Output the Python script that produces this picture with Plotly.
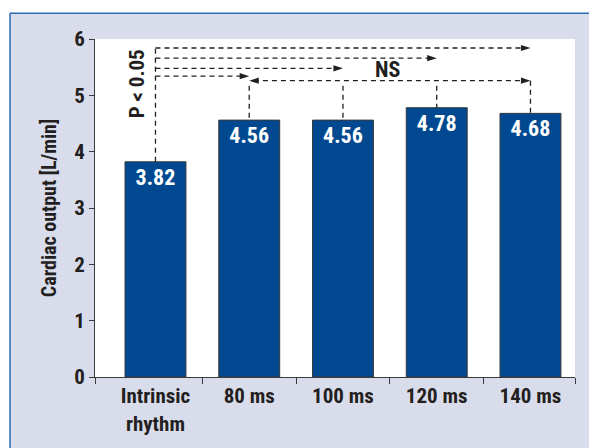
import plotly.graph_objects as go

# ---- data -------------------------------------------------------------
categories = ["Intrinsic<br>rhythm", "80 ms", "100 ms", "120 ms", "140 ms"]
cardiac_output = [3.82, 4.56, 4.56, 4.78, 4.68]
y_ticks = [0, 1, 2, 3, 4, 5, 6]

# intrinsic rhythm compared with each paced AV delay (P < 0.05)
sig_targets = [4, 3, 2, 1]
sig_levels = [5.84, 5.66, 5.48, 5.34]
# paced AV delays compared with each other (NS)
ns_targets = [1, 2, 3, 4]
ns_level = 5.26

# ---- styling ----------------------------------------------------------
W, H = 589, 448
M = dict(l=95, r=14, t=39, b=67)
X_RANGE = [-0.645, 4.475]
Y_RANGE = [0, 6]
FONT = "Liberation Sans Narrow, Roboto Condensed, DejaVu Sans Condensed, Arial Narrow, sans-serif"
INK = "#231F20"
BAR_BLUE = "#004990"
PANEL = "#D9DDEB"
FRAME_BLUE = "#2F6DB3"
DASH = "5px,4px"

plot_w = W - M["l"] - M["r"]
plot_h = H - M["t"] - M["b"]


def px_x(px):
    """page x pixel -> paper coordinate"""
    return (px - M["l"]) / plot_w


def px_y(py):
    """page y pixel -> paper coordinate"""
    return (H - M["b"] - py) / plot_h


fig = go.Figure()

fig.add_trace(go.Bar(
    x=categories,
    y=cardiac_output,
    width=0.65,
    marker=dict(color=BAR_BLUE, line=dict(color="#3A3A3A", width=1)),
    texttemplate="%{y:.2f}",
    textposition="inside",
    insidetextanchor="end",
    textangle=0,
    constraintext="none",
    textfont=dict(family=FONT, size=22, color="white", weight="bold"),
    hoverinfo="skip",
    showlegend=False,
))

# ---- comparison brackets ---------------------------------------------
shapes = []
line_style = dict(color=INK, width=1.3, dash=DASH)
gap = 0.05  # stop dashed lines just short of the arrow tips

# vertical rising from the intrinsic-rhythm bar
shapes.append(dict(type="line", xref="x2", yref="y", x0=0, x1=0,
                   y0=cardiac_output[0], y1=max(sig_levels), line=line_style))
for tgt, lvl in zip(sig_targets, sig_levels):
    shapes.append(dict(type="line", xref="x2", yref="y", x0=0, x1=tgt - gap,
                       y0=lvl, y1=lvl, line=line_style))

# NS bracket across the paced settings
shapes.append(dict(type="line", xref="x2", yref="y",
                   x0=ns_targets[0] + gap, x1=ns_targets[-1] - gap,
                   y0=ns_level, y1=ns_level, line=line_style))
for tgt in ns_targets:
    top = ns_level if tgt == ns_targets[-1] else ns_level - 0.09
    shapes.append(dict(type="line", xref="x2", yref="y", x0=tgt, x1=tgt,
                       y0=top, y1=cardiac_output[tgt], line=line_style))

# arrowheads
arrow_x = list(sig_targets) + [ns_targets[0], ns_targets[-1]]
arrow_y = list(sig_levels) + [ns_level, ns_level]
arrow_ang = [90] * len(sig_targets) + [270, 90]
fig.add_trace(go.Scatter(
    x=arrow_x, y=arrow_y, xaxis="x2", yaxis="y", mode="markers",
    marker=dict(symbol="arrow", size=10, angle=arrow_ang, color=INK,
                line=dict(width=0)),
    hoverinfo="skip", showlegend=False, cliponaxis=False,
))

# ---- panel frame -------------------------------------------------------
frame_left, frame_top = 10, 13
shapes += [
    dict(type="rect", xref="paper", yref="paper", layer="below",
         x0=px_x(-5), x1=px_x(frame_left - 0.5), y0=px_y(H + 5), y1=px_y(-5),
         fillcolor="white", line=dict(width=0)),
    dict(type="rect", xref="paper", yref="paper", layer="below",
         x0=px_x(-5), x1=px_x(W + 5), y0=px_y(frame_top - 0.5), y1=px_y(-5),
         fillcolor="white", line=dict(width=0)),
    dict(type="line", xref="paper", yref="paper",
         x0=px_x(frame_left), x1=px_x(frame_left),
         y0=px_y(frame_top), y1=px_y(H + 5),
         line=dict(color=FRAME_BLUE, width=1.5)),
    dict(type="line", xref="paper", yref="paper",
         x0=px_x(frame_left), x1=px_x(W + 5),
         y0=px_y(frame_top), y1=px_y(frame_top),
         line=dict(color=FRAME_BLUE, width=1.5)),
]

annotations = [
    dict(text="P < 0.05", xref="x2", yref="y", x=-0.2, y=5.21, textangle=-90,
         showarrow=False, font=dict(family=FONT, size=21, color=INK, weight="bold")),
    dict(text="NS", xref="x2", yref="y", x=2.47, y=5.45,
         showarrow=False, font=dict(family=FONT, size=22, color=INK, weight="bold")),
]

fig.update_layout(
    width=W, height=H,
    margin=dict(l=M["l"], r=M["r"], t=M["t"], b=M["b"], pad=0),
    paper_bgcolor=PANEL,
    plot_bgcolor="white",
    font=dict(family=FONT, color=INK, weight="bold"),
    shapes=shapes,
    annotations=annotations,
    bargap=0.35,
    xaxis=dict(
        type="category", range=X_RANGE, ticks="", showgrid=False,
        showline=True, linecolor="#3A3A3A", linewidth=1,
        tickfont=dict(family=FONT, size=21, color=INK, weight="bold"),
        fixedrange=True,
    ),
    xaxis2=dict(
        type="linear", overlaying="x", anchor="y", range=X_RANGE,
        tickvals=[X_RANGE[0], 0.5, 1.5, 2.5, 3.5, X_RANGE[1]],
        ticks="outside", ticklen=6, tickcolor="#3A3A3A", tickwidth=1,
        showticklabels=False, showgrid=False, showline=False, zeroline=False,
        side="bottom", fixedrange=True,
    ),
    yaxis=dict(
        range=Y_RANGE, tickvals=y_ticks, ticks="outside", ticklen=5,
        tickcolor="#3A3A3A", showgrid=False, zeroline=False,
        showline=True, linecolor="#3A3A3A", linewidth=1,
        tickfont=dict(family=FONT, size=21, color=INK, weight="bold"),
        title=dict(text="Cardiac output [L/min]", standoff=12,
                   font=dict(family=FONT, size=20, color=INK, weight="bold")),
        fixedrange=True,
    ),
)

fig.write_html("out.html", config={"displayModeBar": False})
